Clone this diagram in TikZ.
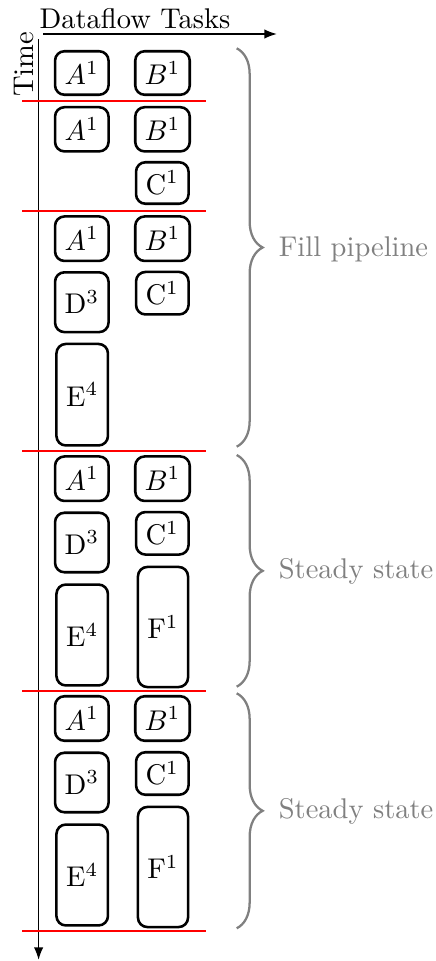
\documentclass[tikz,border=0pt]{standalone}
\usetikzlibrary{arrows.meta,decorations.pathreplacing}
\begin{document}
\begin{tikzpicture}[x=0.3509pt,y=-0.3509pt,
  bx/.style 2 args={draw, line width=0.9pt, rounded corners=3.3pt, inner sep=0pt,
     minimum width=#1*0.3509pt, minimum height=#2*0.3509pt},
  divider/.style={red, line width=0.6pt},
  axis/.style={line width=0.6pt, -{Latex[length=4.4pt,width=3.3pt]}},
  brc/.style={gray, line width=0.8pt, decorate, decoration={brace, amplitude=9.1pt}},
  brlabel/.style={gray, anchor=base west, inner sep=0pt}]
\useasboundingbox (0,0) rectangle (436,961);
% axes
\coordinate (ht0) at (43.3,34);
\coordinate (ht1) at (277,34);
\coordinate (vt0) at (38.6,39.3);
\coordinate (vt1) at (38.6,960);
\draw[axis] (ht0) -- (ht1);
\draw[axis] (vt0) -- (vt1);
\node[anchor=base west, inner sep=0pt] (xlab) at (39,28.7) {Dataflow Tasks};
\node[rotate=90, anchor=base, inner sep=0pt] (ylab) at (33.3,64.2) {Time};
% dividers
\foreach \yy/\nm in {100.7/r1,210.7/r2,450.7/r3,690.7/r4,930.7/r5}{
  \coordinate (\nm a) at (22,\yy);
  \coordinate (\nm b) at (206,\yy);
  \draw[divider] (\nm a) -- (\nm b);
}
% section 1
\node[bx={53.5}{43.5}] (A1a) at (81.8,73) {$A^1$};
\node[bx={54.5}{43.5}] (B1a) at (162.5,73) {$B^1$};
% section 2
\node[bx={53.5}{44.2}] (A1b) at (81.8,129.3) {$A^1$};
\node[bx={54.5}{44.2}] (B1b) at (162.5,129.3) {$B^1$};
\node[bx={52.5}{41.5}] (C1b) at (162.3,183) {C$^1$};
% section 3
\node[bx={53.5}{44.5}] (A1c) at (81.8,238.7) {$A^1$};
\node[bx={54.5}{44.5}] (B1c) at (162.5,238.7) {$B^1$};
\node[bx={53.5}{59.8}] (D3c) at (81.8,302.2) {D$^3$};
\node[bx={52.5}{42.5}] (C1c) at (162.3,293.2) {C$^1$};
\node[bx={51.5}{101.5}] (E4c) at (82.2,394.7) {E$^4$};
% section 4
\node[bx={53.5}{44.5}] (A1d) at (81.8,478.7) {$A^1$};
\node[bx={54.5}{44.5}] (B1d) at (162.5,478.7) {$B^1$};
\node[bx={53.5}{59.5}] (D3d) at (81.8,542.5) {D$^3$};
\node[bx={52.5}{42.5}] (C1d) at (162.3,533.3) {C$^1$};
\node[bx={51.5}{100.9}] (E4d) at (82.2,635) {E$^4$};
\node[bx={50.1}{120.1}] (F1d) at (163,627) {F$^1$};
% section 5
\node[bx={53.5}{44.5}] (A1e) at (81.8,718.5) {$A^1$};
\node[bx={54.5}{44.5}] (B1e) at (162.5,718.5) {$B^1$};
\node[bx={53.5}{59.5}] (D3e) at (81.8,782.5) {D$^3$};
\node[bx={52.5}{42.5}] (C1e) at (162.3,773.5) {C$^1$};
\node[bx={51.5}{100.9}] (E4e) at (82.2,875) {E$^4$};
\node[bx={50.1}{120.1}] (F1e) at (163,867) {F$^1$};
% braces
\coordinate (b1t) at (236.7,48.3);
\coordinate (b1b) at (236.7,446.7);
\coordinate (b2t) at (236.7,455);
\coordinate (b2b) at (236.7,686.7);
\coordinate (b3t) at (236.7,693.3);
\coordinate (b3b) at (236.7,928.3);
\draw[brc] (b1t) -- (b1b);
\draw[brc] (b2t) -- (b2b);
\draw[brc] (b3t) -- (b3b);
\node[brlabel] (fill) at (278.3,256) {Fill pipeline};
\node[brlabel] (ss1) at (278.3,578.5) {Steady state};
\node[brlabel] (ss2) at (278.3,818) {Steady state};
\end{tikzpicture}
\end{document}
